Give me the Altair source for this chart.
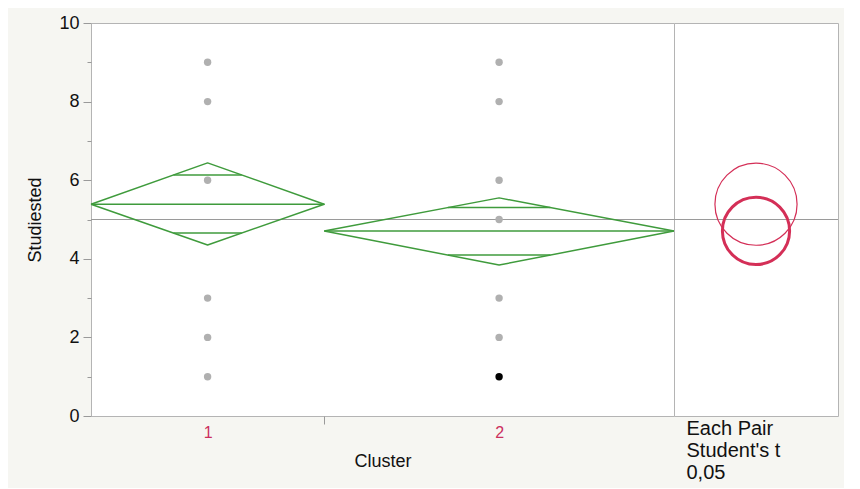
import altair as alt
import pandas as pd
import numpy as np

# ---- data ----
clusters = ["1", "2"]
cluster_n = [20, 30]            # relative group sizes (x-axis widths)
cluster_mean = [5.39, 4.71]
ci_lower = [4.35, 3.84]
ci_upper = [6.44, 5.55]
grand_mean = 5.0
points_c1 = [9, 8, 6, 3, 2, 1]
points_c2 = [9, 8, 6, 5, 3, 2, 1]
selected_c2 = [False, False, False, False, False, False, True]
selected_cluster = "2"
y_ticks = list(range(0, 11))
compare_title = ["Each Pair", "Student's t", "\u2002" + "0,05"]

# ---- derived tables ----
starts = np.concatenate([[0], np.cumsum(cluster_n)[:-1]])
ends = np.cumsum(cluster_n)
centers = (starts + ends) / 2
total_n = float(sum(cluster_n))

diamond_rows = []
mean_rows = []
overlap_rows = []
k = 1 / np.sqrt(2)
for i, c in enumerate(clusters):
    l, r, ce = starts[i], ends[i], centers[i]
    m, lo, up = cluster_mean[i], ci_lower[i], ci_upper[i]
    for o, (x, y) in enumerate([(l, m), (ce, up), (r, m), (ce, lo), (l, m)]):
        diamond_rows.append({"cluster": c, "order": o, "x": x, "y": y})
    mean_rows.append({"cluster": c, "x": l, "x2": r, "y": m})
    hw = (1 - k) * (r - l) / 2
    overlap_rows.append({"cluster": c, "x": ce - hw, "x2": ce + hw, "y": m + (up - m) * k})
    overlap_rows.append({"cluster": c, "x": ce - hw, "x2": ce + hw, "y": m - (m - lo) * k})

diamond_df = pd.DataFrame(diamond_rows)
mean_df = pd.DataFrame(mean_rows)
overlap_df = pd.DataFrame(overlap_rows)

pts = []
for v in points_c1:
    pts.append({"cluster": "1", "x": centers[0], "y": v, "sel": "no"})
for v, s in zip(points_c2, selected_c2):
    pts.append({"cluster": "2", "x": centers[1], "y": v, "sel": "yes" if s else "no"})
pts_df = pd.DataFrame(pts)

circ_df = pd.DataFrame({
    "cluster": clusters,
    "x": [0.5, 0.5],
    "y": cluster_mean,
    "d2": [(u - l) ** 2 for u, l in zip(ci_upper, ci_lower)],
})
gm_df = pd.DataFrame({"y": [grand_mean]})

# ---- layout constants ----
W_LEFT, W_RIGHT, H = 583, 164, 393
GREEN = "#3f9b3c"
RED = "#d42f57"
FONT = "Liberation Sans"

yscale = alt.Scale(domain=[0, 10], nice=False, zero=False)
xscale = alt.Scale(domain=[0, total_n], nice=False, zero=False, padding=0)

label_expr = " : ".join(
    [f"datum.value == {centers[i]} ? '{c}'" for i, c in enumerate(clusters)]
) + " : ''"

x_axis = alt.Axis(
    values=[float(centers[0]), float(starts[1]), float(centers[1])],
    labelExpr=label_expr,
    tickOpacity={"condition": {"test": f"datum.value == {float(starts[1])}", "value": 1}, "value": 0},
    tickSize=8, tickColor="#9a9a9a", labelPadding=0,
    labelColor="#cc2f5e", labelFontSize=16, labelFont=FONT,
    domain=False, grid=False, title="Cluster", titleFontSize=18,
    titleFont=FONT, titleFontWeight="normal", titlePadding=12, titleColor="#111",
)
y_axis = alt.Axis(
    values=y_ticks,
    labelExpr="datum.value % 2 == 0 ? datum.label : ''",
    tickSize={"condition": {"test": "datum.value % 2 == 0", "value": 8}, "value": 4},
    tickColor="#9a9a9a", labelPadding=4, labelFontSize=18, labelFont=FONT,
    labelColor="#111", domain=False, grid=False,
    title="Studiested", titleFontSize=18, titleFont=FONT,
    titleFontWeight="normal", titlePadding=14, titleColor="#111",
)

base_left_x = alt.X("x:Q", scale=xscale, axis=x_axis)
base_left_y = alt.Y("y:Q", scale=yscale, axis=y_axis)

gm_rule_left = alt.Chart(gm_df).mark_rule(color="#9a9a9a", strokeWidth=1).encode(
    y=alt.Y("y:Q", scale=yscale, axis=y_axis)
)
diamonds = alt.Chart(diamond_df).mark_line(
    color=GREEN, strokeWidth=1.5, strokeJoin="round"
).encode(
    x=base_left_x, y=base_left_y, detail="cluster:N", order="order:Q"
)
mean_lines = alt.Chart(mean_df).mark_rule(color=GREEN, strokeWidth=1.5).encode(
    x=base_left_x, x2="x2:Q", y=base_left_y
)
overlap_lines = alt.Chart(overlap_df).mark_rule(color=GREEN, strokeWidth=1.5).encode(
    x=base_left_x, x2="x2:Q", y=base_left_y
)
points = alt.Chart(pts_df).mark_circle(size=55, opacity=1).encode(
    x=base_left_x, y=base_left_y,
    color=alt.condition(alt.datum.sel == "yes", alt.value("#000000"), alt.value("#b0b0b0")),
)

left = alt.layer(gm_rule_left, points, diamonds, mean_lines, overlap_lines).properties(
    width=W_LEFT, height=H
)

# ---- right panel: comparison circles ----
right_x_axis = alt.Axis(
    title=compare_title, labels=False, ticks=False, domain=False, grid=False,
    titleAlign="left", titleAnchor="start", titleX=12, titleY=2, titleBaseline="top",
    titleFontSize=20, titleLineHeight=22, titleFontWeight="normal", titleFont=FONT,
    titleColor="#111", titleAngle=0,
)
px_per_unit = H / 10.0
size_scale = alt.Scale(domain=[0, 100], range=[0, (10 * px_per_unit) ** 2], zero=True)

gm_rule_right = alt.Chart(gm_df).mark_rule(color="#9a9a9a", strokeWidth=1).encode(
    y=alt.Y("y:Q", scale=yscale, axis=None)
)
circles = alt.Chart(circ_df).mark_point(shape="circle", filled=False, color=RED, opacity=1).encode(
    x=alt.X("x:Q", scale=alt.Scale(domain=[0, 1], nice=False, zero=False), axis=right_x_axis),
    y=alt.Y("y:Q", scale=yscale, axis=None),
    size=alt.Size("d2:Q", scale=size_scale, legend=None),
    strokeWidth=alt.condition(alt.datum.cluster == selected_cluster, alt.value(3), alt.value(1.2)),
)
right = alt.layer(gm_rule_right, circles).properties(width=W_RIGHT, height=H)

chart = alt.hconcat(left, right, spacing=0, bounds="flush").properties(
    background="#f6f6f2",
    padding={"left": 18, "top": 5, "right": 5, "bottom": 5},
).configure_view(
    fill="white", stroke="#b4b4b4", strokeWidth=1
)

chart.save("out.html", embed_options={"renderer": "svg", "actions": False})
